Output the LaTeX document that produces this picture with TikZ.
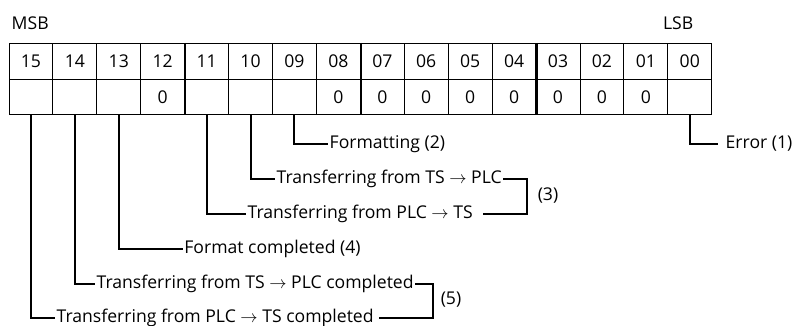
\documentclass[tikz,border=0pt]{standalone}
\usepackage{fontspec}
\setmainfont{Open Sans}
\begin{document}
\begin{tikzpicture}[x=1pt,y=-1pt,
  cell/.style={draw,line width=0.9pt,minimum width=43.92pt,minimum height=35.8pt,inner sep=0pt,font=\fontsize{17.6}{19}\selectfont},
  lbl/.style={inner xsep=1.5pt,inner ysep=0pt,font=\fontsize{17.6}{19}\selectfont},
  thick sep/.style={line width=2.6pt},
  conn/.style={line width=2pt}]
\useasboundingbox (0,0) rectangle (793,325);
\node[lbl,anchor=west] (msb) at (10,23) {MSB};
\node[lbl,anchor=east] (lsb) at (695,23) {LSB};
% header and value cells
\foreach \i/\b/\v in {0/15/,1/14/,2/13/,3/12/0,4/11/,5/10/,6/09/,7/08/0,8/07/0,9/06/0,10/05/0,11/04/0,12/03/0,13/02/0,14/01/0,15/00/}{
  \node[cell] (h\b) at ({9+43.92*(\i+0.5)},61.15) {\b};
  \node[cell] (v\b) at ({9+43.92*(\i+0.5)},96.95) {\v};
}
\draw[thick sep] (h12.north east) -- (v12.south east);
\draw[thick sep] (h08.north east) -- (v08.south east);
\draw[thick sep] (h04.north east) -- (v04.south east);
% labels
\node[lbl,anchor=west] (t00) at (724,143.5) {Error (1)};
\node[lbl,anchor=west] (t09) at (328,144.3) {Formatting (2)};
\node[lbl,anchor=west] (t10) at (275,179) {Transferring from TS $\rightarrow$ PLC};
\node[lbl,anchor=west] (t11) at (246,214.3) {Transferring from PLC $\rightarrow$ TS};
\node[lbl,anchor=west] (t13) at (182.7,249) {Format completed (4)};
\node[lbl,anchor=west] (t14) at (95,284) {Transferring from TS $\rightarrow$ PLC completed};
\node[lbl,anchor=west] (t15) at (55,317.5) {Transferring from PLC $\rightarrow$ TS completed};
\node[lbl] (g3) at (548,196) {(3)};
\node[lbl] (g5) at (451,300) {(5)};
\coordinate (b3) at (526.7,0);
\coordinate (b5) at (433,0);
% connectors
\draw[conn] (v00.south) |- ([xshift=-6pt]t00.west);
\draw[conn] (v09.south) |- (t09.west);
\draw[conn] (v10.south) |- (t10.west);
\draw[conn] (v11.south) |- (t11.west);
\draw[conn] (v13.south) |- (t13.west);
\draw[conn] (v14.south) |- (t14.west);
\draw[conn] (v15.south) |- (t15.west);
% brackets
\draw[conn] (t10.east) -- (t10.east -| b3) -- (t11.east -| b3) -- ([xshift=9pt]t11.east);
\draw[conn] (t14.east) -- (t14.east -| b5) -- (t15.east -| b5) -- ([xshift=4pt]t15.east);
\end{tikzpicture}
\end{document}
